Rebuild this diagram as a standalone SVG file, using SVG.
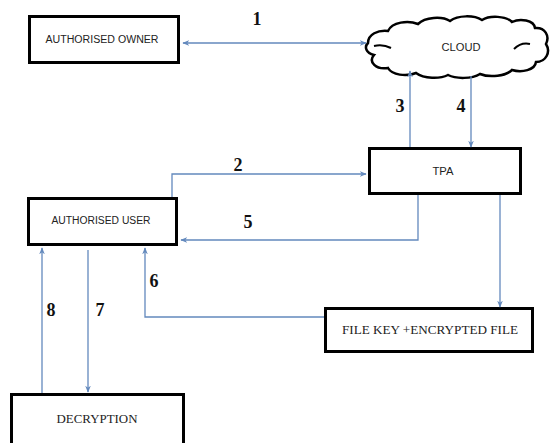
<svg xmlns="http://www.w3.org/2000/svg" width="550" height="443" viewBox="0 0 550 443">
<style>
.box{fill:#fff;stroke:#000;stroke-width:3}
.conn{fill:none;stroke:#6389bd;stroke-width:1.3}
.sans{font-family:"Liberation Sans",Arial,sans-serif;font-size:10px;fill:#222;text-anchor:middle}
.serif{font-family:"Liberation Serif","Times New Roman",serif;font-size:12px;fill:#222;text-anchor:middle}
.num{font-family:"Liberation Serif","Times New Roman",serif;font-size:18px;font-weight:bold;fill:#111;text-anchor:middle}
</style>
<defs>
<marker id="ah" viewBox="0 0 10 10" refX="9" refY="5" markerWidth="7" markerHeight="7" markerUnits="userSpaceOnUse" orient="auto-start-reverse">
<path d="M0,1 L10,5 L0,9 L3,5 z" fill="#6389bd"/>
</marker>
</defs>
<rect width="550" height="443" fill="#fff"/>
<g id="owner">
<rect class="box" x="29.5" y="16.5" width="149" height="46"/>
<text class="sans" x="102" y="43" textLength="113" lengthAdjust="spacingAndGlyphs">AUTHORISED OWNER</text>
</g>
<g id="cloud">
<path d="M368,43 C368,34 378,30 388,31 C392,22 408,20 418,24 C425,17 442,16 450,21 C458,15 474,15 482,20 C490,15 506,16 512,22 C520,18 534,20 535,28 C545,27 550,36 546,44 C551,52 546,62 536,62 C535,70 522,73 512,70 C506,76 490,78 480,74 C472,79 456,79 448,75 C440,79 424,79 416,73 C406,77 392,75 388,68 C376,70 368,62 374,55 C366,53 364,47 368,43 z" fill="#fff" stroke="#000" stroke-width="2.5"/>
<path d="M374,46 Q383,44 391,48" fill="none" stroke="#000" stroke-width="2"/>
<path d="M514,49 Q521,42 530,44" fill="none" stroke="#000" stroke-width="2"/>
<text class="sans" x="461" y="51" textLength="39" lengthAdjust="spacingAndGlyphs">CLOUD</text>
</g>
<g id="tpa">
<rect class="box" x="369.5" y="148.5" width="151" height="45"/>
<text class="sans" x="443" y="175" textLength="21" lengthAdjust="spacingAndGlyphs">TPA</text>
</g>
<g id="user">
<rect class="box" x="28.5" y="198.5" width="148" height="46"/>
<text class="sans" x="101" y="224" textLength="99" lengthAdjust="spacingAndGlyphs">AUTHORISED USER</text>
</g>
<g id="filekey">
<rect class="box" x="325.5" y="308.5" width="207" height="43"/>
<text class="serif" x="430" y="334" textLength="176" lengthAdjust="spacingAndGlyphs">FILE KEY +ENCRYPTED FILE</text>
</g>
<g id="decryption">
<rect class="box" x="11.5" y="394.5" width="172" height="60"/>
<text class="serif" x="97" y="423" style="font-size:13px" textLength="81" lengthAdjust="spacingAndGlyphs">DECRYPTION</text>
</g>
<g id="connectors">
<path class="conn" d="M183,43 L366,43" marker-start="url(#ah)" marker-end="url(#ah)"/>
<path class="conn" d="M172,197 L172,174 L366,174" marker-end="url(#ah)"/>
<path class="conn" d="M410,147 L410,71" marker-end="url(#ah)"/>
<path class="conn" d="M471,76 L471,147" marker-end="url(#ah)"/>
<path class="conn" d="M418,195 L418,240 L181,240" marker-end="url(#ah)"/>
<path class="conn" d="M324,317 L145,317 L145,248" marker-end="url(#ah)"/>
<path class="conn" d="M500,195 L500,307" marker-end="url(#ah)"/>
<path class="conn" d="M88,250 L88,392" marker-end="url(#ah)"/>
<path class="conn" d="M42,393 L42,248" marker-end="url(#ah)"/>
<text class="num" x="257" y="25">1</text>
<text class="num" x="238" y="171">2</text>
<text class="num" x="400" y="112">3</text>
<text class="num" x="461" y="112">4</text>
<text class="num" x="248" y="228">5</text>
<text class="num" x="154" y="287">6</text>
<text class="num" x="100" y="316">7</text>
<text class="num" x="51" y="316">8</text>
</g>
</svg>
